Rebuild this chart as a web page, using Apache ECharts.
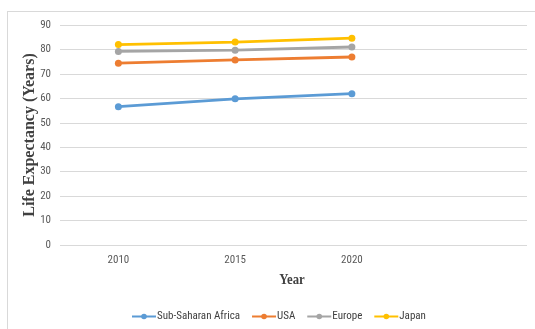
<!DOCTYPE html>
<html><head><meta charset="utf-8">
<script src="https://cdn.jsdelivr.net/npm/echarts@6/dist/echarts.min.js"></script>
<style>
html,body{margin:0;padding:0;background:#fff;}
#frame{position:absolute;left:7px;top:11px;width:540px;height:330px;border:1px solid #d9d9d9;box-sizing:border-box;}
#c{position:absolute;left:0;top:0;width:535px;height:329px;}
</style></head>
<body><div id="frame"></div><div id="c"></div>
<script>
const years = ['2010','2015','2020',''];
const seriesNames = ['Sub-Saharan Africa','USA','Europe','Japan'];
const ssa = [56.6, 59.8, 61.9];
const usa = [74.4, 75.7, 76.9];
const europe = [79.2, 79.7, 81.0];
const japan = [82.0, 83.0, 84.6];
const colors = ['#5B9BD5','#ED7D31','#A5A5A5','#FFC000'];
const yTicks = {min:0, max:90, interval:10};
const xTitle = 'Year';
const yTitle = 'Life Expectancy (Years)';

const narrow = "'Liberation Sans Narrow', 'Roboto Condensed', Roboto, sans-serif";
const chart = echarts.init(document.getElementById('c'));
const data = [ssa, usa, europe, japan];
chart.setOption({
  animation:false,
  color: colors,
  grid:{left:60, right:8, top:25, bottom:84},
  xAxis:{
    type:'category', data: years, boundaryGap:true,
    axisLine:{show:false}, axisTick:{show:false},
    axisLabel:{color:'#595959', fontSize:11, fontFamily:narrow, margin:10}
  },
  yAxis:{
    type:'value', min:yTicks.min, max:yTicks.max, interval:yTicks.interval,
    axisLine:{show:false}, axisTick:{show:false},
    axisLabel:{color:'#595959', fontSize:11, fontFamily:narrow, margin:9},
    splitLine:{lineStyle:{color:'#d9d9d9', width:1}}
  },
  legend:{
    bottom:2, left:126, itemWidth:24, itemHeight:7, itemGap:11,
    textStyle:{color:'#404040', fontSize:11, fontFamily:narrow, padding:[0,0,0,-4]},
    data: seriesNames
  },
  graphic:[
    {type:'text', x:292, y:280, scaleX:0.85,
     style:{text:xTitle, fontFamily:'Liberation Serif', fontWeight:'bold', fontSize:15, fill:'#404040', align:'center', verticalAlign:'middle'}},
    {type:'text', x:30, y:135, rotation:Math.PI/2,
     style:{text:yTitle, fontFamily:'Liberation Serif', fontWeight:'bold', fontSize:16, fill:'#404040', align:'center', verticalAlign:'middle'}}
  ],
  series: seriesNames.map((n,i)=>({
    name:n, type:'line', data:data[i], symbol:'circle', symbolSize:7,
    lineStyle:{width:2.8}, itemStyle:{color:colors[i]}
  }))
});
</script></body></html>
